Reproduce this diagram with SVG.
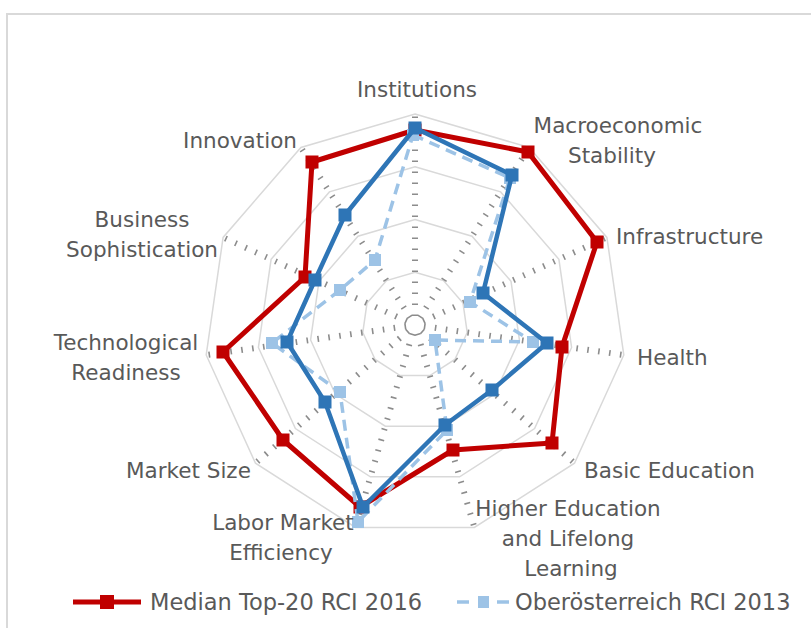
<svg xmlns="http://www.w3.org/2000/svg" xmlns:xlink="http://www.w3.org/1999/xlink" width="811" height="628" viewBox="0 0 811 628">
<style>
.frame{fill:none;stroke:#d9d9d9;stroke-width:2}
.ring{fill:none;stroke:#d9d9d9;stroke-width:1.5}
.axis{stroke:#8c8c8c;stroke-width:6;stroke-dasharray:1.6 9.4;stroke-dashoffset:-9}
.red{fill:none;stroke:#c00000;stroke-width:5;stroke-linejoin:round}
.blue{fill:none;stroke:#2e75b6;stroke-width:4.5;stroke-linejoin:round}
.lblue{fill:none;stroke:#9dc3e6;stroke-width:3.5;stroke-dasharray:11 7}
.mred{fill:#c00000}
.mblue{fill:#2e75b6}
.mlblue{fill:#9dc3e6}
text{font-family:"DejaVu Sans","Liberation Sans",sans-serif;font-size:21.5px;fill:#595959}
.c{text-anchor:middle}
.lg{font-size:22.5px}
</style>
<defs>
<rect id="sq" x="-6.5" y="-6.5" width="13" height="13"/>
<rect id="sqs" x="-6" y="-6" width="12" height="12"/>
</defs>
<rect width="811" height="628" fill="#ffffff"/>
<path class="frame" d="M7,628 V14 H811"/>
<g id="grid">
<polygon class="ring" points="415,114 529.1,147.5 606.9,237.4 623.8,355 574.5,463.2 474.4,527.5 355.6,527.5 255.5,463.2 206.2,355 223.1,237.4 300.9,147.5"/>
<polygon class="ring" points="415,166.75 500.6,191.9 558.9,259.3 571.6,347.5 534.6,428.6 459.6,476.8 370.4,476.8 295.4,428.6 258.4,347.5 271.1,259.3 329.4,191.9"/>
<polygon class="ring" points="415,219.5 472,236.2 511,281.2 519.4,340 494.7,394.1 444.7,426.2 385.3,426.2 335.3,394.1 310.6,340 319,281.2 358,236.2"/>
<polygon class="ring" points="415,272.25 443.5,280.6 463,303.1 467.2,332.5 454.9,359.5 429.9,375.6 400.1,375.6 375.1,359.5 362.8,332.5 367,303.1 386.5,280.6"/>
</g>
<g id="axes">
<line class="axis" x1="415" y1="325" x2="415" y2="114"/>
<line class="axis" x1="415" y1="325" x2="529.1" y2="147.5"/>
<line class="axis" x1="415" y1="325" x2="606.9" y2="237.4"/>
<line class="axis" x1="415" y1="325" x2="623.8" y2="355"/>
<line class="axis" x1="415" y1="325" x2="574.5" y2="463.2"/>
<line class="axis" x1="415" y1="325" x2="474.4" y2="527.5"/>
<line class="axis" x1="415" y1="325" x2="355.6" y2="527.5"/>
<line class="axis" x1="415" y1="325" x2="255.5" y2="463.2"/>
<line class="axis" x1="415" y1="325" x2="206.2" y2="355"/>
<line class="axis" x1="415" y1="325" x2="223.1" y2="237.4"/>
<line class="axis" x1="415" y1="325" x2="300.9" y2="147.5"/>
</g>
<g id="series-median">
<polygon class="red" points="415,130 528,152 597,242 562,347 552,443 453,450 360,507 283,440 223,352 305,277 312,162"/>
<g class="mred">
<use xlink:href="#sq" x="415" y="130"/><use xlink:href="#sq" x="528" y="152"/><use xlink:href="#sq" x="597" y="242"/><use xlink:href="#sq" x="562" y="347"/><use xlink:href="#sq" x="552" y="443"/><use xlink:href="#sq" x="453" y="450"/><use xlink:href="#sq" x="360" y="507"/><use xlink:href="#sq" x="283" y="440"/><use xlink:href="#sq" x="223" y="352"/><use xlink:href="#sq" x="305" y="277"/><use xlink:href="#sq" x="312" y="162"/>
</g>
</g>
<g id="series-ooe2013">
<polygon class="lblue" points="413,135 510,178 470,302 533,342 435,340 447,430 358,522 340,392 272,343 340,290 375,260"/>
<g class="mlblue">
<use xlink:href="#sqs" x="413" y="135"/><use xlink:href="#sqs" x="510" y="178"/><use xlink:href="#sqs" x="470" y="302"/><use xlink:href="#sqs" x="533" y="342"/><use xlink:href="#sqs" x="435" y="340"/><use xlink:href="#sqs" x="447" y="430"/><use xlink:href="#sqs" x="358" y="522"/><use xlink:href="#sqs" x="340" y="392"/><use xlink:href="#sqs" x="272" y="343"/><use xlink:href="#sqs" x="340" y="290"/><use xlink:href="#sqs" x="375" y="260"/>
</g>
</g>
<g id="series-ooe">
<polygon class="blue" points="415,128 512,175 483,293 547,343 492,390 445,425 363,507 325,402 287,342 315,280 345,215"/>
<g class="mblue">
<use xlink:href="#sq" x="415" y="128"/><use xlink:href="#sq" x="512" y="175"/><use xlink:href="#sq" x="483" y="293"/><use xlink:href="#sq" x="547" y="343"/><use xlink:href="#sq" x="492" y="390"/><use xlink:href="#sq" x="445" y="425"/><use xlink:href="#sq" x="363" y="507"/><use xlink:href="#sq" x="325" y="402"/><use xlink:href="#sq" x="287" y="342"/><use xlink:href="#sq" x="315" y="280"/><use xlink:href="#sq" x="345" y="215"/>
</g>
</g>
<g id="labels">
<g id="lbl-institutions"><text class="c" x="417" y="97">Institutions</text></g>
<g id="lbl-macro"><text class="c" x="618" y="133">Macroeconomic</text><text class="c" x="612" y="163">Stability</text></g>
<g id="lbl-infra"><text x="616" y="244">Infrastructure</text></g>
<g id="lbl-health"><text x="637" y="365">Health</text></g>
<g id="lbl-basic"><text x="584" y="478">Basic Education</text></g>
<g id="lbl-higher"><text class="c" x="568" y="516">Higher Education</text><text class="c" x="568" y="546">and Lifelong</text><text class="c" x="571" y="576">Learning</text></g>
<g id="lbl-labor"><text class="c" x="283" y="530">Labor Market</text><text class="c" x="281" y="560">Efficiency</text></g>
<g id="lbl-market"><text x="126" y="478">Market Size</text></g>
<g id="lbl-tech"><text class="c" x="126" y="350">Technological</text><text class="c" x="126" y="380">Readiness</text></g>
<g id="lbl-business"><text class="c" x="142" y="227">Business</text><text class="c" x="142" y="257">Sophistication</text></g>
<g id="lbl-innovation"><text class="c" x="240" y="148">Innovation</text></g>
</g>
<g id="legend">
<line x1="73" y1="602" x2="141" y2="602" stroke="#c00000" stroke-width="5"/>
<rect x="100" y="595" width="14" height="14" fill="#c00000"/>
<text class="lg" x="150" y="610">Median Top-20 RCI 2016</text>
<line x1="457" y1="602" x2="469" y2="602" stroke="#9dc3e6" stroke-width="3.5"/>
<line x1="497" y1="602" x2="509" y2="602" stroke="#9dc3e6" stroke-width="3.5"/>
<rect x="478" y="596" width="11" height="12" fill="#9dc3e6"/>
<text class="lg" x="515" y="610">Oberösterreich RCI 2013</text>
</g>
</svg>
